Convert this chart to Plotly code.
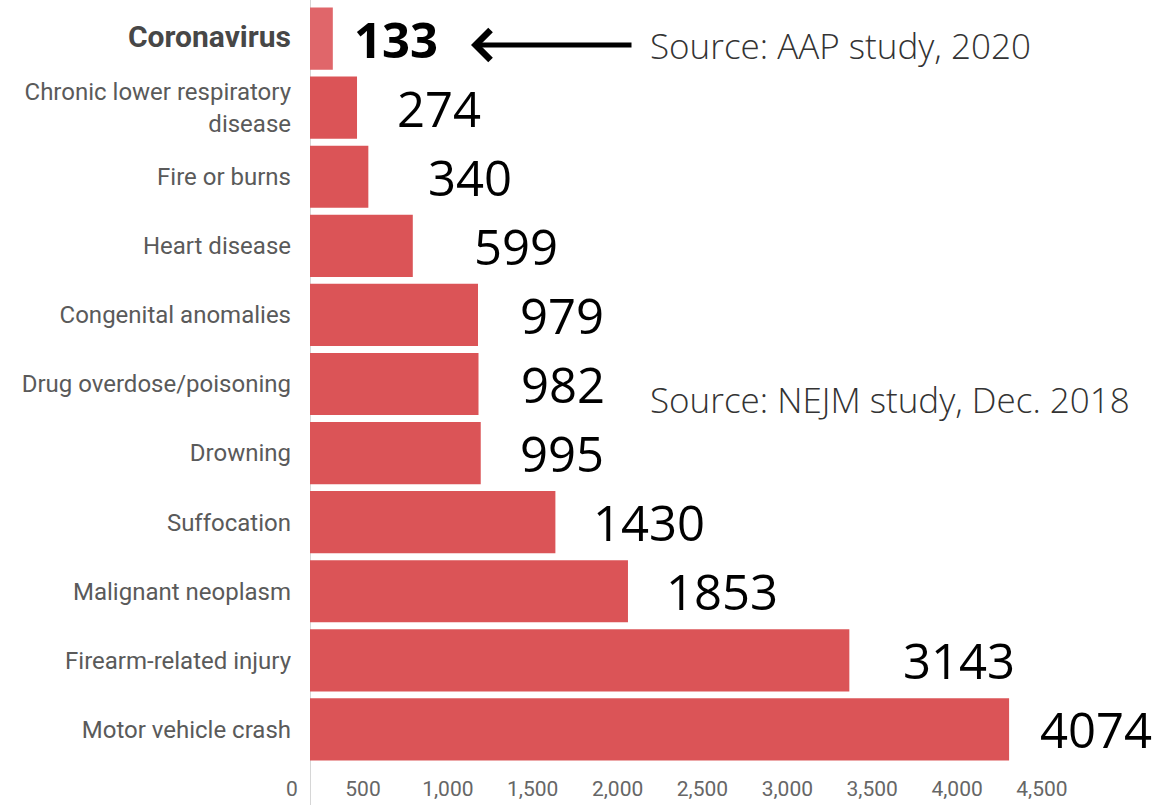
import plotly.graph_objects as go

# ---------------- data ----------------
categories = [
    "Coronavirus",
    "Chronic lower respiratory disease",
    "Fire or burns",
    "Heart disease",
    "Congenital anomalies",
    "Drug overdose/poisoning",
    "Drowning",
    "Suffocation",
    "Malignant neoplasm",
    "Firearm-related injury",
    "Motor vehicle crash",
]
deaths = [133, 274, 340, 599, 979, 982, 995, 1430, 1853, 3143, 4074]
tick_values = [500, 1000, 1500, 2000, 2500, 3000, 3500, 4000, 4500]
tick_labels = ["500", "1,000", "1,500", "2,000", "2,500", "3,000", "3,500", "4,000", "4,500"]
source_top = "Source: AAP study, 2020"
source_mid = "Source: NEJM study, Dec. 2018"

# ---------------- layout helpers ----------------
W, H = 1161, 805
ML, MR, MT, MB = 310, 0, 4, 41
PW, PH = W - ML - MR, H - MT - MB
PX_PER_UNIT = 0.1716            # bar scale
X_MAX = PW / PX_PER_UNIT
# secondary (label) axis scale as drawn in the picture
T_PX0, T_PX_PER_UNIT = 278.1, 0.16975
X2_MIN = (ML - T_PX0) / T_PX_PER_UNIT
X2_MAX = (W - MR - T_PX0) / T_PX_PER_UNIT

def px(x):
    return (x - ML) / PW

def py(y):
    return (H - MB - y) / PH

ticktext_y = []
for c in categories:
    if c == "Coronavirus":
        ticktext_y.append("<span style='font-size:30px;color:#474747'><b>Coronavirus</b></span>")
    elif c == "Chronic lower respiratory disease":
        ticktext_y.append("Chronic lower respiratory<br>disease")
    else:
        ticktext_y.append(c)

bar_colors = ["#E0666A" if c == "Coronavirus" else "#DB5457" for c in categories]
label_shift = [19, 38, 58, 59, 40, 40, 37, 36, 36, 52, 29]

fig = go.Figure()
fig.add_trace(go.Bar(
    x=deaths, y=categories, orientation="h",
    marker=dict(color=bar_colors, line=dict(width=0)),
    hoverinfo="x+y", showlegend=False,
))
# invisible helper trace so the label axis is drawn
fig.add_trace(go.Scatter(
    x=[tick_values[0]], y=[categories[0]], xaxis="x2", yaxis="y",
    mode="markers", marker=dict(opacity=0), hoverinfo="skip", showlegend=False,
))

fig.update_layout(
    width=W, height=H,
    margin=dict(l=ML, r=MR, t=MT, b=MB, autoexpand=False),
    paper_bgcolor="white", plot_bgcolor="white",
    bargap=0.1,
    xaxis=dict(
        range=[0, X_MAX], showgrid=False, zeroline=False, showline=False,
        tickmode="array", tickvals=[0], ticktext=["0"], ticks="",
        ticklabelshift=-18, ticklabelstandoff=10, automargin=False,
        tickfont=dict(family="Roboto", size=21, color="#666666"),
        fixedrange=True,
    ),
    xaxis2=dict(
        overlaying="x", anchor="y", side="bottom", automargin=False,
        range=[X2_MIN, X2_MAX], showgrid=False, zeroline=False, showline=False,
        tickmode="array", tickvals=tick_values, ticktext=tick_labels, ticks="",
        ticklabelstandoff=10,
        tickfont=dict(family="Roboto", size=21, color="#666666"),
    ),
    yaxis=dict(
        type="category", range=[len(categories) - 0.5, -0.5], automargin=False,
        tickmode="array", tickvals=categories, ticktext=ticktext_y,
        ticks="", showgrid=False, zeroline=False, showline=False,
        ticklabelstandoff=18,
        tickfont=dict(family="Roboto", size=24, color="#5A5A5A"),
    ),
    font=dict(family="Roboto"),
)

# light axis line running the full height
fig.add_shape(type="line", xref="x", yref="paper", x0=0, x1=0,
              y0=py(H), y1=py(0), line=dict(color="#D6D6D6", width=2), layer="below")

# value labels
for c, v, s in zip(categories, deaths, label_shift):
    txt = f"<b>{v}</b>" if c == "Coronavirus" else str(v)
    fig.add_annotation(x=v, y=c, xref="x", yref="y", text=txt, showarrow=False,
                       xanchor="left", yanchor="middle", xshift=s,
                       font=dict(family="Open Sans", size=49, color="#000000"))

# arrow
fig.add_annotation(x=px(471), y=py(45), xref="paper", yref="paper", text="",
                   showarrow=True, ax=162, ay=0, arrowhead=4, arrowsize=1.15,
                   arrowwidth=5, arrowcolor="#000000", standoff=0, startstandoff=0)

# source notes
fig.add_annotation(x=px(648), y=py(46), xref="paper", yref="paper", text=source_top,
                   showarrow=False, xanchor="left", yanchor="middle",
                   font=dict(family="Open Sans", size=35, color="#333333", weight=300))
fig.add_annotation(x=px(648), y=py(399), xref="paper", yref="paper", text=source_mid,
                   showarrow=False, xanchor="left", yanchor="middle",
                   font=dict(family="Open Sans", size=35, color="#333333", weight=300))

fig.write_html(
    "out.html",
    config={"displayModeBar": False},
    post_script="document.body.style.margin='0';document.body.style.padding='0';",
)
